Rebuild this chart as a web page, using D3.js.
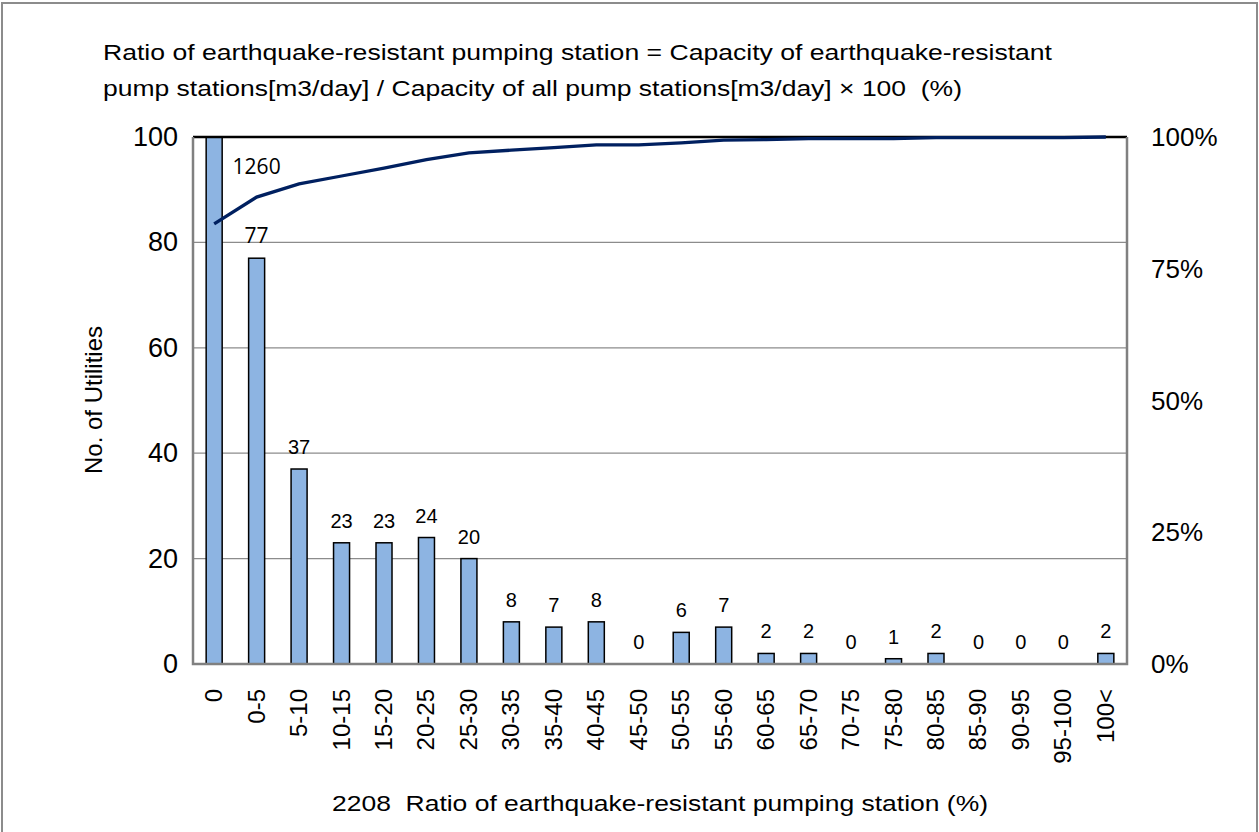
<!DOCTYPE html>
<html><head><meta charset="utf-8">
<script src="https://cdn.jsdelivr.net/npm/d3@7"></script>
<style>body{margin:0;background:#fff}svg{display:block}text{white-space:pre}</style>
</head><body>
<svg id="c" width="1259" height="832"></svg>
<script>
const categories = ["0","0-5","5-10","10-15","15-20","20-25","25-30","30-35","35-40","40-45","45-50","50-55","55-60","60-65","65-70","70-75","75-80","80-85","85-90","90-95","95-100","100<"];
const counts = [1260,77,37,23,23,24,20,8,7,8,0,6,7,2,2,0,1,2,0,0,0,2];
const cumulativePct = [83.5,88.6,91.1,92.6,94.1,95.7,97.0,97.5,98.0,98.5,98.5,98.9,99.4,99.5,99.7,99.7,99.7,99.9,99.9,99.9,99.9,100];
const leftTicks = [0,20,40,60,80,100];
const rightTicks = [0,25,50,75,100];
const titleLines = ["Ratio of earthquake-resistant pumping station = Capacity of earthquake-resistant","pump stations[m3/day] / Capacity of all pump stations[m3/day] \u00d7 100  (%)"];
const xTitle = "2208  Ratio of earthquake-resistant pumping station (%)";
const yTitle = "No. of Utilities";

const svg = d3.select("#c");
const L = 193, R = 1127, T = 137, B = 664;
const font = "Liberation Sans, Arial, sans-serif";

// outer frame
svg.append("rect").attr("x",2).attr("y",3).attr("width",1255).attr("height",840)
  .attr("fill","none").attr("stroke","#8c8c8c").attr("stroke-width",2);

const x = d3.scaleBand().domain(categories).range([L,R]).paddingInner(0.623).paddingOuter(0.31);
const y = d3.scaleLinear().domain([0,100]).range([B,T]);
const y2 = d3.scaleLinear().domain([0,100]).range([B,T]);

// gridlines
svg.append("g").selectAll("line").data(leftTicks.filter(d=>d>0&&d<100)).join("line")
  .attr("x1",L).attr("x2",R).attr("y1",d=>y(d)).attr("y2",d=>y(d))
  .attr("stroke","#8c8c8c").attr("stroke-width",1.3);

// bars
svg.append("g").selectAll("rect").data(counts).join("rect")
  .attr("x",(d,i)=>x(categories[i]))
  .attr("width",x.bandwidth())
  .attr("y",d=>y(Math.min(d,100)))
  .attr("height",d=>B-y(Math.min(d,100)))
  .attr("fill","#8db4e2").attr("stroke","#000").attr("stroke-width",1.5);

// plot border
svg.append("line").attr("x1",L).attr("x2",R).attr("y1",T).attr("y2",T).attr("stroke","#000").attr("stroke-width",2.5);
svg.append("path").attr("d",`M${L},${T}V${B}H${R}V${T}`).attr("fill","none").attr("stroke","#808080").attr("stroke-width",2.5);

// cumulative line
const line = d3.line().x((d,i)=>x(categories[i])+x.bandwidth()/2).y(d=>y2(d));
svg.append("path").datum(cumulativePct).attr("d",line).attr("fill","none")
  .attr("stroke","#002060").attr("stroke-width",3.3);

// value labels
svg.append("g").selectAll("text").data(counts).join("text")
  .attr("x",(d,i)=> i===0 ? x(categories[1])+x.bandwidth()/2 : x(categories[i])+x.bandwidth()/2)
  .attr("y",(d,i)=> i===0 ? 174 : y(Math.min(d,100))-15)
  .attr("text-anchor","middle")
  .attr("font-family",(d,i)=> i<2 ? "Open Sans, Noto Sans, sans-serif" : font)
  .attr("font-size",(d,i)=> i<2 ? 21 : 20)
  .attr("fill","#000").text(d=>d);

// left axis labels
svg.append("g").selectAll("text").data(leftTicks).join("text")
  .attr("x",178).attr("y",d=>y(d)+9).attr("text-anchor","end")
  .attr("font-family",font).attr("font-size",27).text(d=>d);

// right axis labels
svg.append("g").selectAll("text").data(rightTicks).join("text")
  .attr("x",1151).attr("y",d=>y2(d)+9).attr("text-anchor","start")
  .attr("font-family",font).attr("font-size",26).text(d=>d+"%");

// x category labels
svg.append("g").selectAll("text").data(categories).join("text")
  .attr("transform",d=>`translate(${x(d)+x.bandwidth()/2+8},689) rotate(-90)`)
  .attr("text-anchor","end")
  .attr("font-family",font).attr("font-size",24).text(d=>d);

// titles
const tl = [949, 859];
svg.append("g").selectAll("text").data(titleLines).join("text")
  .attr("x",103).attr("y",(d,i)=>60+i*36)
  .attr("textLength",(d,i)=>tl[i]).attr("lengthAdjust","spacingAndGlyphs")
  .attr("font-family",font).attr("font-size",22).text(d=>d);

svg.append("text").attr("x",332).attr("y",811)
  .attr("textLength",656).attr("lengthAdjust","spacingAndGlyphs")
  .attr("font-family",font).attr("font-size",22).text(xTitle);

svg.append("text").attr("transform","translate(102,400) rotate(-90)").attr("text-anchor","middle")
  .attr("font-family",font).attr("font-size",24).text(yTitle);
</script>
</body></html>
